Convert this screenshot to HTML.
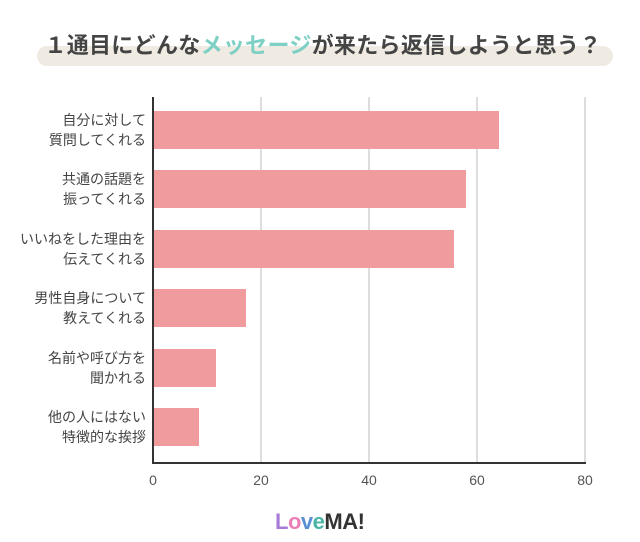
<!DOCTYPE html>
<html><head><meta charset="utf-8"><style>
body{margin:0;width:640px;height:542px;background:#fff;overflow:hidden;position:relative;font-family:"Liberation Sans","Noto Sans CJK JP",sans-serif;}
.pill{position:absolute;left:37px;top:46px;width:576px;height:20px;border-radius:10px;background:#efebe3;}
.title{position:absolute;left:0;width:646px;top:28px;text-align:center;font-size:22px;font-weight:bold;color:#444;letter-spacing:0.3px;}
.title span{color:#7ecfc4;}
.lab{position:absolute;right:494px;font-size:14px;color:#444;text-align:right;line-height:20px;}
.bar{position:absolute;left:154px;height:38px;background:#f09c9e;}
.grid{position:absolute;top:97px;height:366px;width:2px;background:#ddd;}
.tick{position:absolute;top:472px;font-size:14px;color:#555;width:40px;text-align:center;}
</style></head><body>
<div class="pill"></div>
<div class="title">１通目にどんな<span>メッセージ</span>が来たら返信しようと思う？</div>
<div class="grid" style="left:260px"></div>
<div class="grid" style="left:368px"></div>
<div class="grid" style="left:476px"></div>
<div class="grid" style="left:584px"></div>
<div style="position:absolute;left:152px;top:97px;width:2px;height:367px;background:#333"></div>
<div style="position:absolute;left:152px;top:462px;width:434px;height:2px;background:#333"></div>
<div class="bar" style="top:111px;width:345px"></div>
<div class="bar" style="top:170px;width:312px"></div>
<div class="bar" style="top:230px;width:300px"></div>
<div class="bar" style="top:289px;width:92px"></div>
<div class="bar" style="top:349px;width:62px"></div>
<div class="bar" style="top:408px;width:45px"></div>
<div class="lab" style="top:110px">自分に対して<br>質問してくれる</div>
<div class="lab" style="top:169px">共通の話題を<br>振ってくれる</div>
<div class="lab" style="top:229px">いいねをした理由を<br>伝えてくれる</div>
<div class="lab" style="top:288px">男性自身について<br>教えてくれる</div>
<div class="lab" style="top:348px">名前や呼び方を<br>聞かれる</div>
<div class="lab" style="top:407px">他の人にはない<br>特徴的な挨拶</div>
<div class="tick" style="left:133px">0</div>
<div class="tick" style="left:241px">20</div>
<div class="tick" style="left:349px">40</div>
<div class="tick" style="left:457px">60</div>
<div class="tick" style="left:565px">80</div>
<div style="position:absolute;left:275px;top:509px;font-size:22px;font-weight:bold;letter-spacing:-0.5px"><span style="color:#a77bd6">L</span><span style="color:#ec7fb5">o</span><span style="color:#5a8fd6">v</span><span style="color:#49b5a6">e</span><span style="color:#333">MA!</span></div>
</body></html>
